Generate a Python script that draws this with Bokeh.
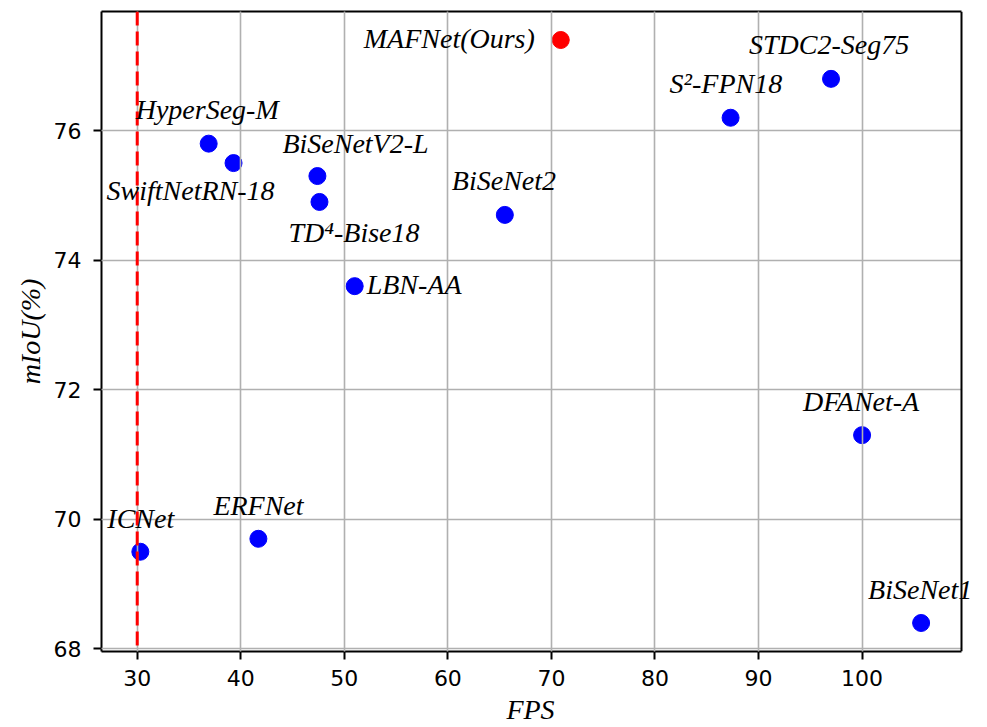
from bokeh.plotting import figure
from bokeh.models import (ColumnDataSource, Range1d, Span, Label, FixedTicker,
                          LinearAxis, BoxAnnotation)
from bokeh.embed import file_html
from bokeh.resources import INLINE

# ---- data ----
methods = ["MAFNet(Ours)", "HyperSeg-M", "SwiftNetRN-18", "BiSeNetV2-L", "TD\u2074-Bise18",
           "BiSeNet2", "LBN-AA", "STDC2-Seg75", "S\u00b2-FPN18", "ICNet", "ERFNet",
           "DFANet-A", "BiSeNet1"]
fps = [70.9, 36.9, 39.3, 47.4, 47.6, 65.5, 51.0, 97.0, 87.3, 30.3, 41.7, 100.0, 105.7]
miou = [77.4, 75.8, 75.5, 75.3, 74.9, 74.7, 73.6, 76.8, 76.2, 69.5, 69.7, 71.3, 68.4]
colors = ["red"] + ["blue"] * 12
x_ticks = [30, 40, 50, 60, 70, 80, 90, 100]
y_ticks = [68, 70, 72, 74, 76]
realtime_fps = 30
x_lim = (26.55, 109.6)
y_lim = (67.96, 77.84)

# ---- label placement (screen pixel offsets from the point, style only) ----
label_dx = [-197, -73, -127, -35, -31, -53, 12, -82, -61, -33, -45, -59, -53]
label_dy = [2, 34, -27, 33, -31, 34, 2, 34, 34, 33, 33, 34, 33]

src = ColumnDataSource(dict(x=fps, y=miou, name=methods, color=colors))

# the frame is widened to the window's right edge so that labels can overhang
# the visible axes box (as in the reference); the box's right edge is drawn by hand
W, H = 987, 727
left_px, right_px = 101, 961
scale = (right_px - left_px) / (x_lim[1] - x_lim[0])
x_end = x_lim[0] + (W - left_px) / scale

p = figure(width=W, height=H, output_backend="svg", toolbar_location=None,
           x_range=Range1d(x_lim[0], x_end), y_range=Range1d(*y_lim),
           min_border_left=left_px, min_border_right=0, min_border_top=11,
           min_border_bottom=76)
p.background_fill_color = "white"
p.border_fill_color = "white"
p.outline_line_color = None

for ax, ticks in ((p.xaxis, x_ticks), (p.yaxis, y_ticks)):
    ax.ticker = FixedTicker(ticks=ticks)
    ax.minor_tick_line_color = None
    ax.major_tick_out = 8
    ax.major_tick_in = 0
    ax.major_tick_line_width = 2
    ax.axis_line_width = 2
    ax.major_label_text_font = "DejaVu Sans"
    ax.major_label_text_font_size = "22px"
    ax.major_label_text_color = "black"
    ax.axis_label_text_font = "Liberation Serif"
    ax.axis_label_text_font_style = "italic"
    ax.axis_label_text_font_size = "28px"
    ax.axis_label_text_color = "black"

p.xaxis.bounds = x_lim
# non-breaking spaces keep the title centred under the visible box, not the widened frame
p.xaxis.axis_label = "FPS" + "\u00a0" * 4
p.yaxis.axis_label = "mIoU(%)"
p.xaxis.major_label_standoff = 10
p.yaxis.major_label_standoff = 12
p.xaxis.axis_label_standoff = 5
p.yaxis.axis_label_standoff = 5

top_axis = LinearAxis(bounds=x_lim, ticker=FixedTicker(ticks=[]), axis_line_width=2,
                      major_tick_line_color=None, minor_tick_line_color=None,
                      major_label_text_font_size="0px")
p.add_layout(top_axis, "above")

for g in (p.xgrid, p.ygrid):
    g.grid_line_color = "#b0b0b0"
    g.grid_line_width = 1.6
    g.level = "guide"
p.xgrid.ticker = FixedTicker(ticks=x_ticks)
p.ygrid.ticker = FixedTicker(ticks=y_ticks)

p.scatter("x", "y", source=src, size=17, fill_color="color", line_color="color")

p.add_layout(Span(location=realtime_fps, dimension="height", line_color="red",
                  line_dash="14 6", line_width=3))

# blank out the area right of the axes box and draw its right edge
p.add_layout(BoxAnnotation(left=x_lim[1], fill_color="white", fill_alpha=1.0,
                           line_color=None))
p.add_layout(Span(location=x_lim[1], dimension="height", line_color="black",
                  line_width=2))

for name, xv, yv, dx, dy in zip(methods, fps, miou, label_dx, label_dy):
    p.add_layout(Label(x=xv, y=yv, text=name, x_offset=dx, y_offset=dy,
                       text_font="Liberation Serif", text_font_style="italic",
                       text_font_size="28px", text_color="black",
                       text_align="left", text_baseline="alphabetic"))

open("out.html", "w").write(file_html(p, INLINE))
